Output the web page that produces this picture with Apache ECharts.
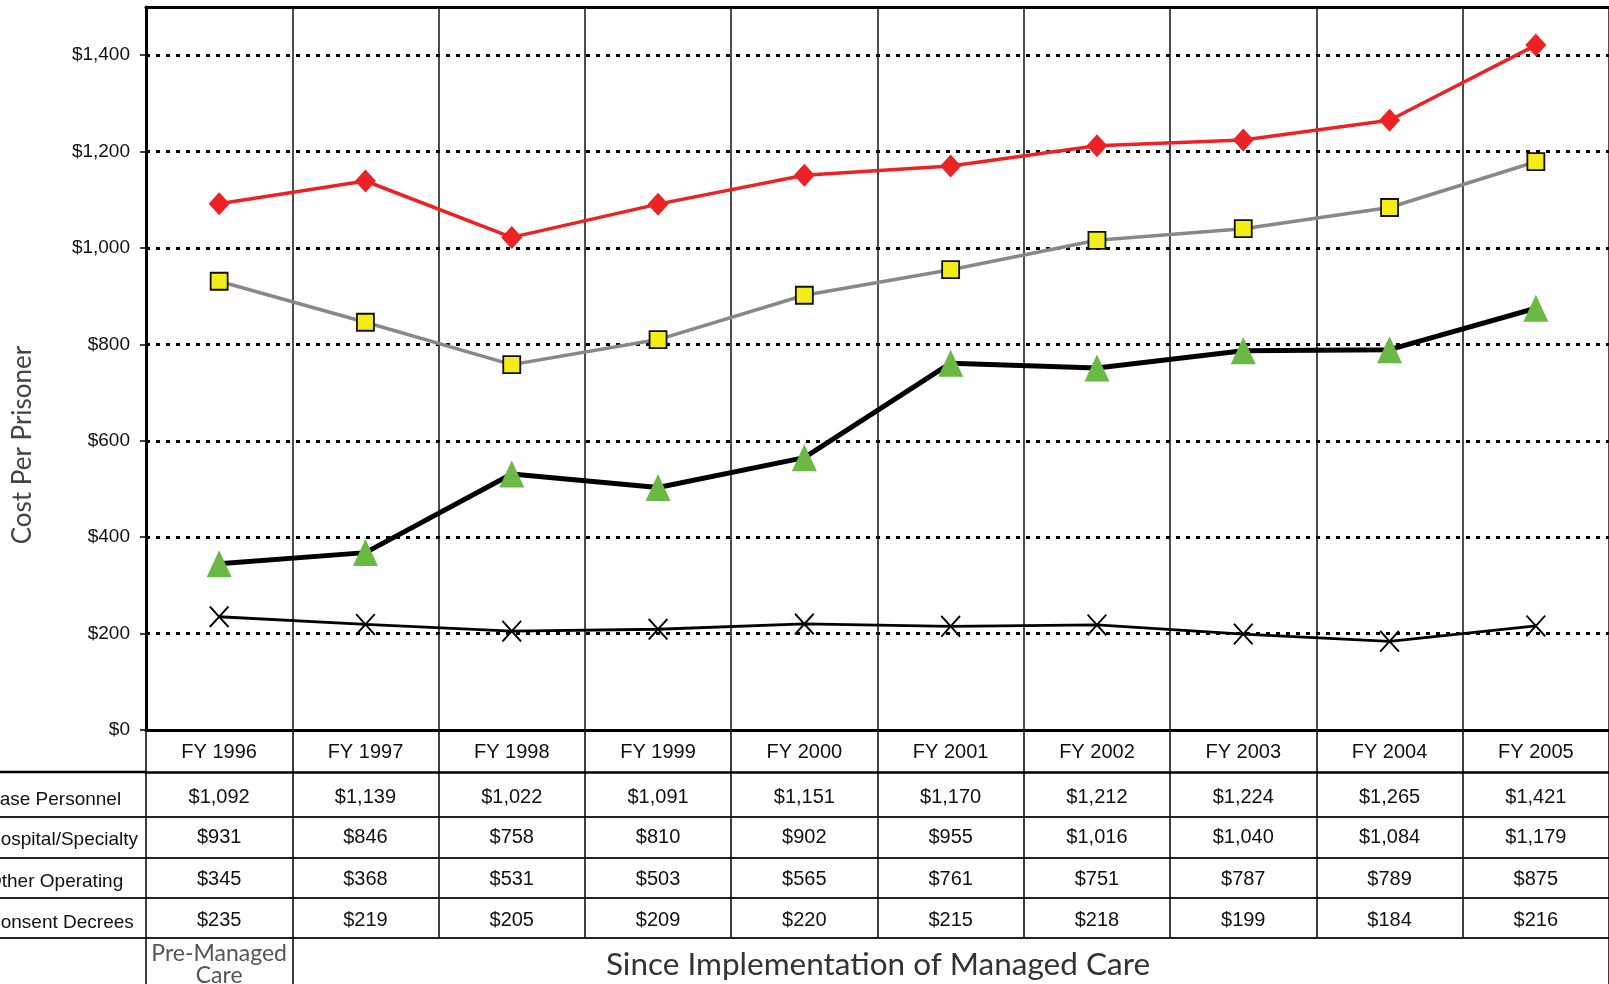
<!DOCTYPE html>
<html><head><meta charset="utf-8">
<script src="https://cdn.jsdelivr.net/npm/echarts@6/dist/echarts.min.js"></script>
<style>html,body{margin:0;padding:0;background:#fff;overflow:hidden}#c{width:1609px;height:984px}</style>
</head><body><div id="c"></div>
<script>
// ---- data ----
const years = ['FY 1996','FY 1997','FY 1998','FY 1999','FY 2000','FY 2001','FY 2002','FY 2003','FY 2004','FY 2005'];
const basePersonnel     = [1092,1139,1022,1091,1151,1170,1212,1224,1265,1421];
const hospitalSpecialty = [931,846,758,810,902,955,1016,1040,1084,1179];
const otherOperating    = [345,368,531,503,565,761,751,787,789,875];
const consentDecrees    = [235,219,205,209,220,215,218,199,184,216];
const rowLabels = ['Base Personnel','Hospital/Specialty','Other Operating','Consent Decrees'];
const periodLabels = ['Pre-Managed\nCare','','','','','','','','',''];
const periodTitle = 'Since Implementation of Managed Care';
const yTicks = [0,200,400,600,800,1000,1200,1400];
const yTitle = 'Cost Per Prisoner';

// ---- layout ----
const LEFT = 146, AXIS_Y = 730;
const rowOffsets = [42, 87, 128, 168];
const rowTickLen = [45, 41, 40, 40];
const rowMargins = [25, 20, 21, 22];
const bottomOffset = 208;
const SANS = '"Liberation Sans", Arial, sans-serif';
const HUM = 'Lato, "Open Sans", sans-serif';

const money = v => '$' + Number(v).toLocaleString('en-US');
const seriesData = [basePersonnel, hospitalSpecialty, otherOperating, consentDecrees];

const xPath = 'path://M0,1.3L1.3,0L20,18.7L18.7,20Z M18.7,0L20,1.3L1.3,20L0,18.7Z';

const xAxes = [{
  type: 'category', data: years, position: 'bottom', boundaryGap: true,
  axisLine: {show: true, lineStyle: {color: '#000', width: 3}},
  axisTick: {show: true, interval: 0, length: 42, lineStyle: {color: '#000', width: 1.5}},
  axisLabel: {interval: 0, margin: 22, verticalAlign: 'middle', fontSize: 20, fontFamily: SANS, color: '#111'},
  splitLine: {show: true, interval: 0, lineStyle: {color: '#111', width: 1.5}}
}];
seriesData.forEach((arr, i) => {
  xAxes.push({
    type: 'category', data: arr.map(money), position: 'bottom', offset: rowOffsets[i], boundaryGap: true,
    axisLine: {show: true, lineStyle: {color: i === 0 ? '#000' : '#222', width: i === 0 ? 2.5 : 2}},
    axisTick: {show: true, interval: 0, length: rowTickLen[i], lineStyle: {color: '#000', width: 1.5}},
    axisLabel: {interval: 0, margin: rowMargins[i], verticalAlign: 'middle', fontSize: 20, fontFamily: SANS, color: '#111'},
    splitLine: {show: false}
  });
});
xAxes.push({
  type: 'category', data: periodLabels, position: 'bottom', offset: bottomOffset, boundaryGap: true,
  axisLine: {show: true, lineStyle: {color: '#222', width: 2}},
  axisTick: {show: true, interval: (idx) => idx <= 1, length: 50, lineStyle: {color: '#000', width: 1.5}},
  axisLabel: {interval: 0, margin: 27, verticalAlign: 'middle', fontSize: 23, lineHeight: 22, fontFamily: HUM, color: '#555'},
  splitLine: {show: false}
});
xAxes.push({
  type: 'category', data: years, position: 'top', z: 5,
  axisLine: {show: true, lineStyle: {color: '#000', width: 3}},
  axisTick: {show: false}, axisLabel: {show: false}, splitLine: {show: false}
});

const graphics = [];
rowLabels.forEach((t, i) => {
  const cy = AXIS_Y + rowOffsets[i] + rowMargins[i] + 3;
  graphics.push({type: 'text', x: -13, y: cy, silent: true,
    style: {text: t, fontSize: 19, fontFamily: SANS, fill: '#111', align: 'left', verticalAlign: 'middle'}});
});
[...rowOffsets, bottomOffset].forEach((o, i) => {
  graphics.push({type: 'line', silent: true, shape: {x1: 0, y1: AXIS_Y + o, x2: LEFT, y2: AXIS_Y + o},
    style: {stroke: i === 0 ? '#000' : '#222', lineWidth: i === 0 ? 2.5 : 2}});
});
graphics.push({type: 'text', x: 878, y: 965, silent: true,
  style: {text: periodTitle, fontSize: 31.5, fontFamily: HUM, fill: '#333', align: 'center', verticalAlign: 'middle'}});
graphics.push({type: 'text', x: 23, y: 445, rotation: Math.PI / 2, silent: true,
  style: {text: yTitle, fontSize: 26, fontFamily: HUM, fill: '#444', align: 'center', verticalAlign: 'middle'}});

const chart = echarts.init(document.getElementById('c'));
chart.setOption({
  animation: false,
  backgroundColor: '#fff',
  grid: {left: LEFT, right: 0, top: 7, bottom: 984 - AXIS_Y, containLabel: false, outerBoundsMode: 'none'},
  xAxis: xAxes,
  yAxis: {
    type: 'value', min: 0, max: 1500, interval: 200,
    axisLine: {show: true, lineStyle: {color: '#000', width: 3}},
    axisTick: {show: true, length: 6, customValues: yTicks, lineStyle: {color: '#000', width: 1.5}},
    axisLabel: {margin: 16, fontSize: 19, fontFamily: SANS, color: '#111', customValues: yTicks,
      formatter: v => money(v)},
    splitLine: {show: true, lineStyle: {color: '#000', width: 3, type: [4, 6]}}
  },
  series: [
    {name: rowLabels[0], type: 'line', data: basePersonnel, symbol: 'diamond', symbolSize: [21, 23],
     lineStyle: {color: '#ED2224', width: 3.5}, itemStyle: {color: '#ED2224'}, z: 4},
    {name: rowLabels[1], type: 'line', data: hospitalSpecialty, symbol: 'rect', symbolSize: 17,
     lineStyle: {color: '#888', width: 3.5}, itemStyle: {color: '#F4EC19', borderColor: '#111', borderWidth: 1.8}, z: 3},
    {name: rowLabels[2], type: 'line', data: otherOperating, symbol: 'triangle', symbolSize: [25, 27],
     lineStyle: {color: '#000', width: 5}, itemStyle: {color: '#6AB945'}, z: 2},
    {name: rowLabels[3], type: 'line', data: consentDecrees, symbol: xPath, symbolSize: [20, 22], symbolKeepAspect: false,
     lineStyle: {color: '#000', width: 2.8}, itemStyle: {color: '#000'}, z: 1}
  ].map(s => Object.assign(s, {emphasis: {disabled: true}, silent: true})),
  graphic: graphics
});
</script></body></html>
